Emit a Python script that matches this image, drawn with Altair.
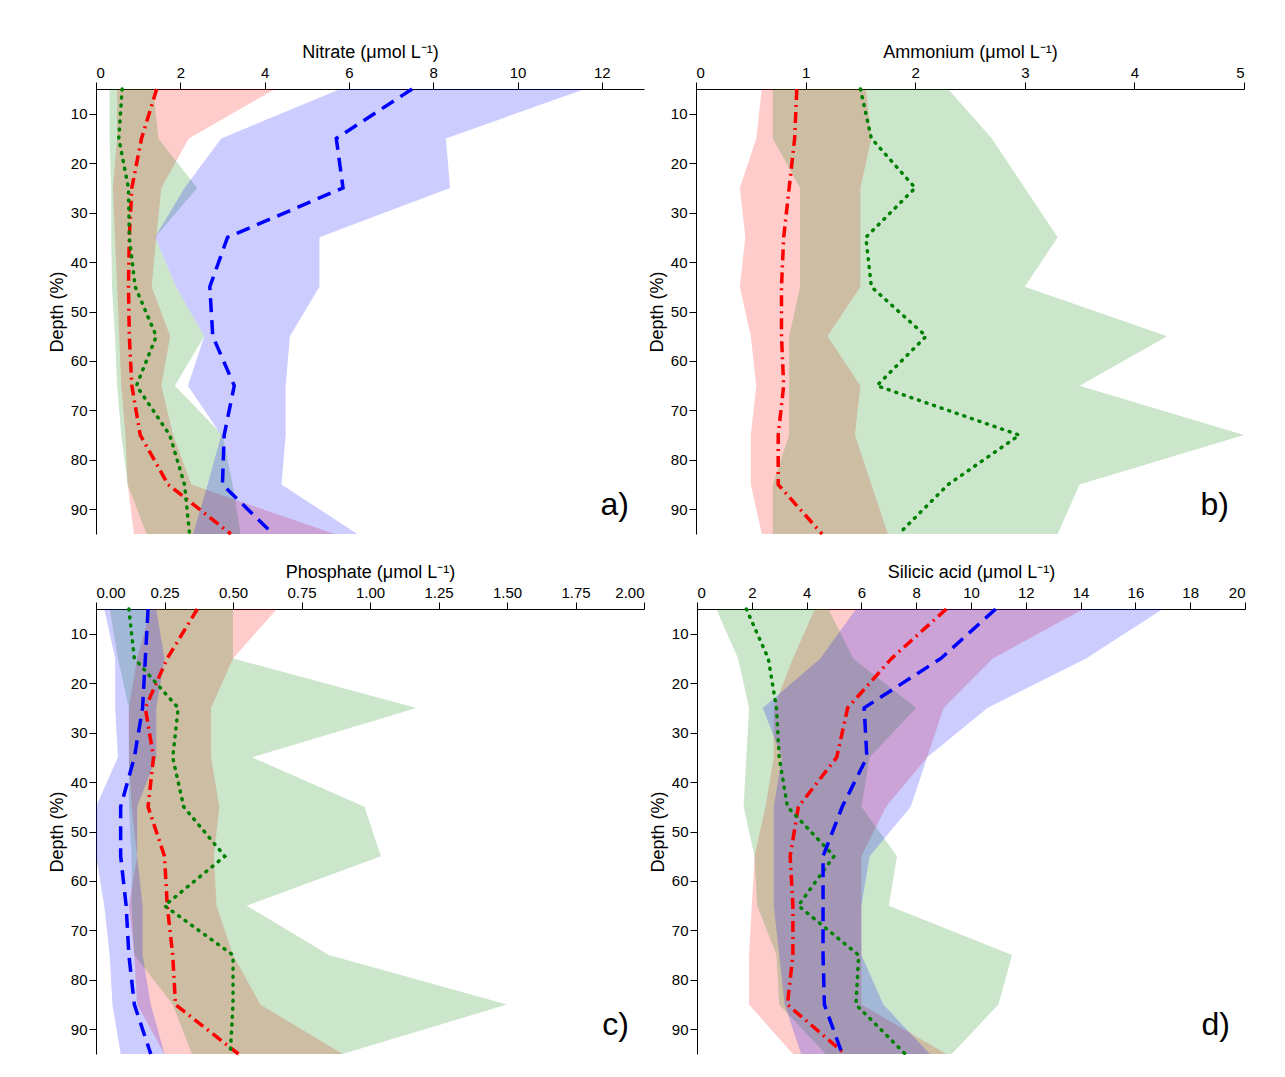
import altair as alt
import pandas as pd

depth = [5, 15, 25, 35, 45, 55, 65, 75, 85, 95]

# Panel a: Nitrate
a_red_mid = [1.44, 1.08, 0.85, 0.79, 0.77, 0.79, 0.85, 1.05, 1.71, 3.2]
a_red_low = [0.5, 0.5, 0.4, 0.45, 0.5, 0.55, 0.6, 0.7, 0.75, 0.9]
a_red_high = [4.25, 2.2, 1.55, 1.43, 1.32, 1.76, 1.55, 1.83, 2.26, 5.66]
a_blue_mid = [7.5, 5.7, 5.86, 3.12, 2.7, 2.77, 3.28, 3.04, 3.0, 4.2]
a_blue_low = [5.8, 2.97, 2.1, 1.4, 1.9, 2.57, 2.18, 2.97, 2.65, 2.3]
a_blue_high = [11.6, 8.3, 8.4, 5.3, 5.3, 4.6, 4.5, 4.5, 4.4, 6.2]
a_green_mid = [0.62, 0.54, 0.77, 0.79, 0.93, 1.43, 0.96, 1.75, 2.1, 2.22]
a_green_low = [0.32, 0.32, 0.36, 0.36, 0.38, 0.45, 0.5, 0.6, 0.75, 1.2]
a_green_high = [1.36, 1.48, 2.4, 1.4, 1.9, 2.57, 1.87, 3.0, 3.24, 3.43]

# Panel b: Ammonium
b_red_mid = [0.92, 0.9, 0.85, 0.8, 0.78, 0.78, 0.8, 0.75, 0.75, 1.15]
b_red_low = [0.6, 0.55, 0.4, 0.45, 0.4, 0.5, 0.55, 0.5, 0.5, 0.6]
b_red_high = [1.55, 1.6, 1.5, 1.5, 1.5, 1.2, 1.5, 1.45, 1.6, 1.75]
b_green_mid = [1.5, 1.6, 2.0, 1.55, 1.6, 2.1, 1.65, 2.95, 2.3, 1.85]
b_green_low = [0.7, 0.7, 0.95, 0.95, 0.95, 0.85, 0.85, 0.85, 0.7, 0.7]
b_green_high = [2.3, 2.7, 3.0, 3.3, 3.0, 4.3, 3.5, 5.0, 3.5, 3.3]

# Panel c: Phosphate
c_red_mid = [0.37, 0.26, 0.18, 0.21, 0.19, 0.25, 0.26, 0.28, 0.29, 0.52]
c_red_low = [0.2, 0.15, 0.12, 0.12, 0.13, 0.15, 0.12, 0.14, 0.15, 0.25]
c_red_high = [0.66, 0.5, 0.42, 0.42, 0.45, 0.43, 0.44, 0.5, 0.6, 0.9]
c_blue_mid = [0.19, 0.18, 0.17, 0.14, 0.09, 0.09, 0.11, 0.12, 0.14, 0.2]
c_blue_low = [0.03, 0.07, 0.07, 0.08, 0.0, 0.0, 0.03, 0.05, 0.06, 0.09]
c_blue_high = [0.22, 0.25, 0.22, 0.22, 0.15, 0.15, 0.17, 0.17, 0.2, 0.25]
c_green_mid = [0.12, 0.14, 0.3, 0.28, 0.32, 0.47, 0.25, 0.5, 0.5, 0.49]
c_green_low = [0.05, 0.08, 0.12, 0.12, 0.12, 0.13, 0.13, 0.14, 0.28, 0.35]
c_green_high = [0.5, 0.5, 1.17, 0.57, 0.98, 1.04, 0.55, 0.85, 1.5, 0.9]

# Panel d: Silicic acid
d_red_mid = [9.1, 7.1, 5.5, 5.1, 3.7, 3.4, 3.5, 3.5, 3.3, 5.4]
d_red_low = [4.3, 3.5, 2.8, 2.8, 2.5, 2.1, 2.0, 1.9, 1.9, 3.5]
d_red_high = [14.1, 10.8, 9.0, 8.4, 6.9, 6.0, 6.0, 6.0, 6.0, 9.1]
d_blue_mid = [10.9, 8.9, 6.1, 6.2, 5.3, 4.6, 4.6, 4.6, 4.65, 5.3]
d_blue_low = [5.8, 4.5, 2.4, 3.1, 2.8, 2.8, 2.8, 3.0, 3.2, 3.8]
d_blue_high = [17.0, 14.2, 10.6, 8.4, 7.8, 6.3, 6.0, 6.0, 6.8, 8.5]
d_green_mid = [1.8, 2.6, 2.9, 3.0, 3.3, 5.0, 3.7, 5.9, 5.8, 7.6]
d_green_low = [0.7, 1.5, 1.9, 1.8, 1.7, 2.1, 2.2, 2.9, 3.0, 4.7]
d_green_high = [4.8, 5.7, 8.0, 6.3, 6.0, 7.3, 7.0, 11.5, 11.0, 9.3]

COL = {"red": "#ff0000", "blue": "#0000ff", "green": "#008000"}
DASH = {"red": [11, 5, 2, 5], "blue": [14, 8], "green": [1, 7]}

FONT = "Liberation Sans"


def panel(title, xmax, xstep, series, label, w=548, h=445):
    xs = alt.X("low:Q", scale=alt.Scale(domain=[0, xmax], nice=False),
               axis=alt.Axis(orient="top", title=title, values=[round(i * xstep, 4) for i in range(int(round(xmax / xstep)) + 1)],
                             format="~r" if xstep >= 1 else ".2f", grid=False, domainColor="black", tickColor="black",
                             labelFontSize=15, titleFontSize=18, labelColor="black", titleColor="black",
                             titleFontWeight="normal", labelFont=FONT, titleFont=FONT, tickSize=7, titlePadding=4))
    ys = alt.Y("depth:Q", scale=alt.Scale(domain=[95, 5], nice=False),
               axis=alt.Axis(title="Depth (%)", values=[10, 20, 30, 40, 50, 60, 70, 80, 90], grid=False,
                             domainColor="black", tickColor="black", labelFontSize=15, titleFontSize=18,
                             labelColor="black", titleColor="black", titleFontWeight="normal",
                             labelFont=FONT, titleFont=FONT, tickSize=7))
    bands, lines = [], []
    for name, low, mid, high in series:
        df = pd.DataFrame({"depth": depth, "low": low, "mid": mid, "high": high})
        bands.append(alt.Chart(df).mark_area(orient="horizontal", color=COL[name], opacity=0.2).encode(
            x=xs, x2="high:Q", y=ys))
        lines.append(alt.Chart(df).mark_line(color=COL[name], strokeWidth=3.5, strokeDash=DASH[name],
                                             strokeCap="round" if name == "green" else "butt").encode(
            x=alt.X("mid:Q"), y=alt.Y("depth:Q"), order="depth:Q"))
    txt = alt.Chart(pd.DataFrame({"t": [label]})).mark_text(
        fontSize=32, font=FONT, align="right", baseline="bottom", color="black").encode(
        text="t:N", x=alt.value(w - 15), y=alt.value(h - 12))
    return alt.layer(*bands, *lines, txt).properties(width=w, height=h)


pa = panel("Nitrate (μmol L⁻¹)", 13, 2, [
    ("red", a_red_low, a_red_mid, a_red_high),
    ("green", a_green_low, a_green_mid, a_green_high),
    ("blue", a_blue_low, a_blue_mid, a_blue_high)], "a)")
pb = panel("Ammonium (μmol L⁻¹)", 5, 1, [
    ("red", b_red_low, b_red_mid, b_red_high),
    ("green", b_green_low, b_green_mid, b_green_high)], "b)")
pc = panel("Phosphate (μmol L⁻¹)", 2, 0.25, [
    ("red", c_red_low, c_red_mid, c_red_high),
    ("green", c_green_low, c_green_mid, c_green_high),
    ("blue", c_blue_low, c_blue_mid, c_blue_high)], "c)")
pd_ = panel("Silicic acid (μmol L⁻¹)", 20, 2, [
    ("red", d_red_low, d_red_mid, d_red_high),
    ("green", d_green_low, d_green_mid, d_green_high),
    ("blue", d_blue_low, d_blue_mid, d_blue_high)], "d)")

chart = alt.vconcat(
    alt.hconcat(pa, pb, spacing=4),
    alt.hconcat(pc, pd_, spacing=4),
    spacing=22,
).properties(padding={"top": 35, "left": 40, "right": 5, "bottom": 5}).configure_view(stroke=None)

chart.save("out.html", embed_options={"renderer": "svg", "actions": False})
